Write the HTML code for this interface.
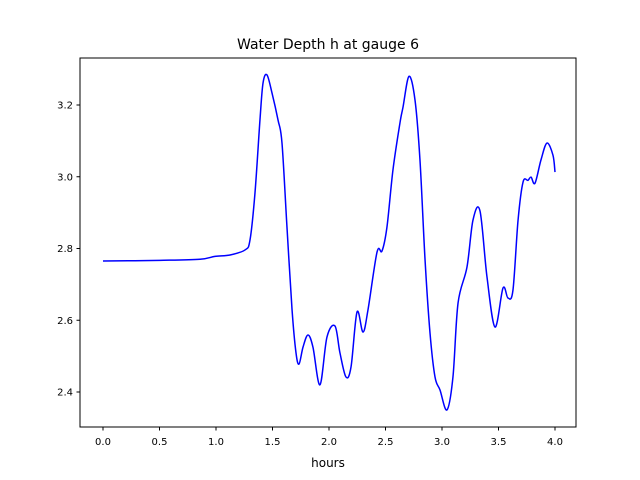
<!DOCTYPE html>
<html><head><meta charset="utf-8"><style>body{margin:0;background:#fff}svg{display:block;font-family:"DejaVu Sans","Liberation Sans",sans-serif}</style></head>
<body>
<svg id="chart" width="640" height="480">
<rect width="640" height="480" fill="#fff"/>
<text x="328" y="49" font-size="14" text-anchor="middle">Water Depth h at gauge 6</text>
<g id="plot"></g>
<rect x="80" y="58" width="496" height="369" fill="none" stroke="#000" stroke-width="1"/>
<text x="328" y="467" font-size="12" text-anchor="middle">hours</text>
</svg>
<script>
const hours=[0,0.504,0.858,0.991,1.124,1.257,1.301,1.345,1.389,1.416,1.451,1.496,1.549,1.584,1.628,1.673,1.708,1.735,1.770,1.814,1.858,1.920,1.982,2.053,2.097,2.150,2.195,2.248,2.301,2.345,2.425,2.469,2.513,2.566,2.628,2.655,2.708,2.761,2.805,2.850,2.894,2.938,2.982,3.044,3.097,3.142,3.221,3.274,3.336,3.398,3.469,3.540,3.584,3.628,3.673,3.717,3.761,3.788,3.823,3.876,3.929,3.982,4.0];
const depth=[2.765,2.767,2.770,2.778,2.782,2.796,2.824,2.955,3.158,3.261,3.284,3.233,3.158,3.094,2.860,2.629,2.509,2.478,2.525,2.559,2.525,2.420,2.553,2.584,2.509,2.442,2.470,2.623,2.567,2.629,2.790,2.793,2.860,3.019,3.150,3.194,3.280,3.214,3.047,2.768,2.564,2.442,2.406,2.350,2.442,2.648,2.748,2.879,2.905,2.721,2.581,2.690,2.662,2.684,2.879,2.985,2.990,2.999,2.982,3.047,3.094,3.060,3.013];
const xTicks=[0,0.5,1,1.5,2,2.5,3,3.5,4];
const xLabels=["0.0","0.5","1.0","1.5","2.0","2.5","3.0","3.5","4.0"];
const yTicks=[2.4,2.6,2.8,3.0,3.2];
const yLabels=["2.4","2.6","2.8","3.0","3.2"];
const X=v=>103+v*113;
const Y=v=>105+(3.2-v)*358.75;
const NS="http://www.w3.org/2000/svg";
const g=document.getElementById('plot');
function mk(t,a){const e=document.createElementNS(NS,t);for(const k in a)e.setAttribute(k,a[k]);g.appendChild(e);return e;}
xTicks.forEach((t,i)=>{
 const l=mk('line',{x1:X(t),x2:X(t),y1:427,y2:430.5,stroke:'#000'});
 
 
 const tx=mk('text',{x:X(t),y:445,'font-size':10,'text-anchor':'middle'});tx.textContent=xLabels[i];
 
 
});
yTicks.forEach((t,i)=>{
 const l=mk('line',{x1:76.5,x2:80,y1:Y(t),y2:Y(t),stroke:'#000'});
 
 
 const tx=mk('text',{x:73,y:Y(t)+3.5,'font-size':10,'text-anchor':'end'});tx.textContent=yLabels[i];
 
 
});
const P=hours.map((h,i)=>[X(h),Y(depth[i])]);
let d='M'+P[0][0]+','+P[0][1];
for(let i=0;i<P.length-1;i++){
 const p0=P[Math.max(0,i-1)],p1=P[i],p2=P[i+1],p3=P[Math.min(P.length-1,i+2)];
 const c1=[p1[0]+(p2[0]-p0[0])/6,p1[1]+(p2[1]-p0[1])/6];
 const c2=[p2[0]-(p3[0]-p1[0])/6,p2[1]-(p3[1]-p1[1])/6];
 d+=` C${c1[0]},${c1[1]} ${c2[0]},${c2[1]} ${p2[0]},${p2[1]}`;
}
const path=mk('path',{d:d,fill:'none',stroke:'#0000ff','stroke-width':1.5});


</script>
</body></html>
